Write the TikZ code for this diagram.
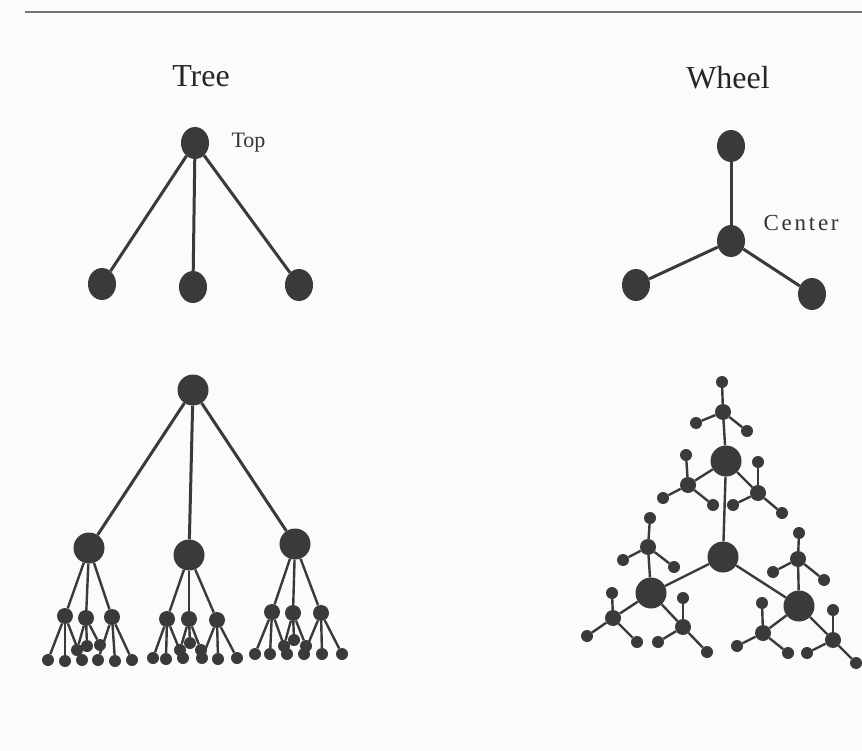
\documentclass[tikz,border=0pt]{standalone}
\usepackage{fontspec}
\setmainfont{Liberation Serif}
\newfontfamily\tagfont{Liberation Serif}[LetterSpace=12]
\usetikzlibrary{shapes.geometric}
\definecolor{ink}{HTML}{3A3A3A}
\definecolor{paper}{HTML}{FBFBFB}

\tikzset{
  bigdot/.style={ellipse, fill=ink, inner sep=0pt, minimum width=28pt, minimum height=32pt},
  hubdot/.style={circle, fill=ink, inner sep=0pt, minimum size=31pt},
  subdot/.style={circle, fill=ink, inner sep=0pt, minimum size=16pt},
  leafdot/.style={circle, fill=ink, inner sep=0pt, minimum size=12pt},
  link/.style={draw=ink, line width=3pt},
  thinlink/.style={draw=ink, line width=2.4pt},
  title/.style={font=\fontsize{32}{36}\selectfont, anchor=base, text=black!85},
  tag/.style={font=\fontsize{22}{26}\selectfont, anchor=base west, text=black!80},
  widetag/.style={font=\tagfont\fontsize{23}{27}\selectfont, anchor=base west, text=black!80},
}

\begin{document}
\begin{tikzpicture}[x=1pt,y=-1pt]
  % page
  \fill[paper] (0,0) rectangle (862,751);
  \useasboundingbox (0,0) rectangle (862,751);
  \draw[black!55, line width=2pt] (25,12) -- (862,12);

  % titles
  \node[title] (ttree) at (201,87) {Tree};
  \node[title] (twheel) at (728,89) {Wheel};

  % ---- small tree ----
  \node[bigdot] (top) at (195,143) {};
  \node[bigdot] (ka) at (102,284) {};
  \node[bigdot] (kb) at (193,287) {};
  \node[bigdot] (kc) at (299,285) {};
  \node[tag] (ltop) at (228,148) {Top};
  \foreach \k in {ka,kb,kc} \draw[link] (top) -- (\k);

  % ---- small wheel ----
  \node[bigdot] (wa) at (731,146) {};
  \node[bigdot] (wc) at (731,241) {};
  \node[bigdot] (wb) at (636,285) {};
  \node[bigdot] (wd) at (812,294) {};
  \node[widetag] (lcenter) at (760,231) {Center};
  \foreach \k in {wa,wb,wd} \draw[link] (wc) -- (\k);

  % ---- large tree ----
  \node[hubdot] (r) at (193,390) {};
  \foreach \g/\x/\y in {1/89/548, 2/189/555, 3/295/544}
    \node[hubdot] (g\g) at (\x,\y) {};
  \foreach \n/\x/\y in {g1a/65/616, g1b/86/618, g1c/112/617,
                        g2a/167/619, g2b/189/619, g2c/217/620,
                        g3a/272/612, g3b/293/613, g3c/321/613}
    \node[subdot] (\n) at (\x,\y) {};
  \foreach \n/\x/\y in {g1a1/48/660, g1a2/65/661, g1a3/82/660,
                        g1b1/77/650, g1b2/87/646, g1b3/100/645,
                        g1c1/98/660, g1c2/115/661, g1c3/132/660,
                        g2a1/153/658, g2a2/166/659, g2a3/183/658,
                        g2b1/180/650, g2b2/190/643, g2b3/201/650,
                        g2c1/202/658, g2c2/218/659, g2c3/237/658,
                        g3a1/255/654, g3a2/270/654, g3a3/287/654,
                        g3b1/284/646, g3b2/294/640, g3b3/306/646,
                        g3c1/304/654, g3c2/322/654, g3c3/342/654}
    \node[leafdot] (\n) at (\x,\y) {};
  \foreach \g in {1,2,3} {
    \draw[link] (r) -- (g\g);
    \foreach \s in {a,b,c} {
      \draw[thinlink] (g\g) -- (g\g\s);
      \foreach \k in {1,2,3} \draw[thinlink] (g\g\s) -- (g\g\s\k);
    }
  }

  % ---- large wheel ----
  \node[hubdot] (w0) at (723,557) {};
  \foreach \h/\x/\y in {t/726/461, l/651/593, r/799/606}
    \node[hubdot] (w\h) at (\x,\y) {};
  \foreach \n/\x/\y in {wtu/723/412, wtl/688/485, wtr/758/493,
                        wlu/648/547, wll/613/618, wlr/683/627,
                        wru/798/559, wrl/763/633, wrr/833/640}
    \node[subdot] (\n) at (\x,\y) {};
  \foreach \n/\x/\y in {wtu1/722/382, wtu2/696/423, wtu3/747/431,
                        wtl1/686/455, wtl2/663/498, wtl3/713/505,
                        wtr1/758/462, wtr2/733/505, wtr3/782/513,
                        wlu1/650/518, wlu2/623/560, wlu3/674/567,
                        wll1/612/593, wll2/587/636, wll3/637/642,
                        wlr1/683/598, wlr2/658/642, wlr3/707/652,
                        wru1/799/533, wru2/773/572, wru3/824/580,
                        wrl1/762/603, wrl2/737/646, wrl3/788/653,
                        wrr1/833/610, wrr2/807/653, wrr3/856/663}
    \node[leafdot] (\n) at (\x,\y) {};
  \foreach \h in {t,l,r} {
    \draw[thinlink] (w0) -- (w\h);
    \foreach \s in {u,l,r} {
      \draw[thinlink] (w\h) -- (w\h\s);
      \foreach \k in {1,2,3} \draw[thinlink] (w\h\s) -- (w\h\s\k);
    }
  }
\end{tikzpicture}
\end{document}
